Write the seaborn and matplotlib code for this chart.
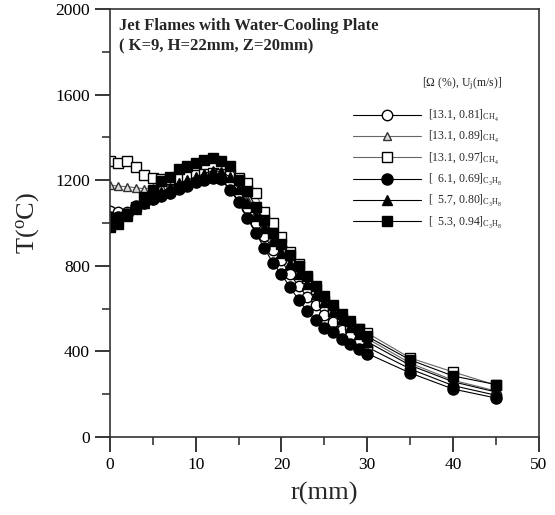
import numpy as np
import pandas as pd
import matplotlib
matplotlib.use("Agg")
import matplotlib.pyplot as plt
import seaborn as sns

# radial positions (mm)
r_mm = [0, 1, 2, 3, 4, 5, 6, 7, 8, 9, 10, 11, 12, 13, 14, 15, 16, 17, 18, 19,
        20, 21, 22, 23, 24, 25, 26, 27, 28, 29, 30, 35, 40, 45]

# temperatures (deg C)
t_ch4_081 = [1055, 1050, 1050, 1075, 1093, 1112, 1130, 1140, 1162, 1178, 1192, 1205, 1215, 1215,
             1190, 1140, 1070, 1000, 940, 875, 825, 760, 705, 655, 615, 570, 535, 500, 470, 445,
             420, 318, 240, 195]
t_ch4_089 = [1178, 1172, 1170, 1165, 1160, 1165, 1172, 1180, 1190, 1200, 1210, 1220, 1235, 1240,
             1215, 1170, 1110, 1050, 990, 930, 870, 820, 770, 725, 680, 640, 600, 565, 530, 500,
             460, 345, 265, 215]
t_ch4_097 = [1290, 1280, 1292, 1262, 1225, 1210, 1205, 1205, 1210, 1215, 1225, 1230, 1235, 1230,
             1225, 1210, 1185, 1140, 1050, 1000, 935, 865, 810, 745, 690, 635, 590, 550, 525, 505,
             486, 369, 304, 242]
t_c3h8_069 = [1030, 1028, 1040, 1078, 1095, 1110, 1125, 1140, 1160, 1175, 1190, 1200, 1210, 1205,
              1154, 1098, 1025, 953, 883, 813, 760, 700, 640, 590, 545, 510, 490, 460, 435, 410,
              390, 299, 224, 182]
t_c3h8_080 = [1010, 1015, 1035, 1065, 1095, 1120, 1145, 1165, 1185, 1200, 1215, 1230, 1245, 1240,
              1215, 1160, 1095, 1035, 975, 915, 860, 810, 760, 715, 670, 630, 590, 550, 515, 480,
              445, 335, 258, 210]
t_c3h8_094 = [981, 995, 1037, 1075, 1121, 1154, 1195, 1215, 1250, 1265, 1280, 1294, 1303, 1290,
              1266, 1200, 1150, 1075, 1015, 955, 900, 850, 800, 750, 705, 660, 615, 575, 540, 505,
              470, 360, 285, 245]

labels = [r"[13.1, 0.81]$_{\mathregular{CH_4}}$",
          r"[13.1, 0.89]$_{\mathregular{CH_4}}$",
          r"[13.1, 0.97]$_{\mathregular{CH_4}}$",
          r"[  6.1, 0.69]$_{\mathregular{C_3H_8}}$",
          r"[  5.7, 0.80]$_{\mathregular{C_3H_8}}$",
          r"[  5.3, 0.94]$_{\mathregular{C_3H_8}}$"]

sns.set_style("ticks")
plt.rcParams["font.family"] = ["Liberation Serif", "DejaVu Serif"]
plt.rcParams["mathtext.fontset"] = "custom"
plt.rcParams["mathtext.rm"] = "Liberation Serif"
plt.rcParams["mathtext.it"] = "Liberation Serif:italic"

fig = plt.figure(figsize=(5.55, 5.15), dpi=100)
ax = fig.add_axes([0.198, 0.1515, 0.773, 0.831])

series = [t_ch4_081, t_ch4_089, t_ch4_097, t_c3h8_069, t_c3h8_080, t_c3h8_094]
styles = [
    dict(marker="o", ms=7.5, mfc="white", mec="black", color="black"),
    dict(marker="^", ms=5.5, mfc="#dddddd", mec="#333333", color="#666666"),
    dict(marker="s", ms=7.5, mfc="white", mec="black", color="#666666"),
    dict(marker="o", ms=8, mfc="black", mec="black", color="black"),
    dict(marker="^", ms=6.5, mfc="black", mec="black", color="black"),
    dict(marker="s", ms=7.5, mfc="black", mec="black", color="black"),
]
for vals, lab, st in zip(series, labels, styles):
    sns.lineplot(x=r_mm, y=vals, ax=ax, label=lab, lw=0.8, mew=1.0, **st)

ax.set_xlim(0, 50)
ax.set_ylim(0, 2000)
ax.set_xticks(np.arange(0, 51, 10))
ax.set_xticks(np.arange(5, 50, 10), minor=True)
ax.set_yticks(np.arange(0, 2001, 400))
ax.set_yticks(np.arange(200, 2000, 400), minor=True)
ax.tick_params(which="major", direction="out", length=11, width=1.1, labelsize=12.5, colors="black")
ax.tick_params(which="minor", direction="out", length=6, width=1.1)
ax.tick_params(top=False, right=False, which="both")
for s in ax.spines.values():
    s.set_linewidth(1.2)
    s.set_color("#333333")

ax.set_xlabel("r(mm)", fontsize=19, labelpad=6)
ax.set_ylabel(r"T($\mathregular{^o}$C)", fontsize=19, labelpad=10)

ax.text(0.022, 0.978, "Jet Flames with Water-Cooling Plate\n( K=9, H=22mm, Z=20mm)",
        transform=ax.transAxes, ha="left", va="top", fontsize=12, fontweight="bold",
        linespacing=1.3)

leg = ax.legend(loc="upper left", bbox_to_anchor=(0.555, 0.855), frameon=False,
                fontsize=8.5, handlelength=5.8, handletextpad=0.6, labelspacing=0.45,
                title=r"[$\Omega$ (%), U$_{\mathregular{j}}$(m/s)]", title_fontsize=8.5,
                alignment="right", borderaxespad=0)
leg._legend_box.sep = 11

fig.savefig("out.png", dpi=100)
